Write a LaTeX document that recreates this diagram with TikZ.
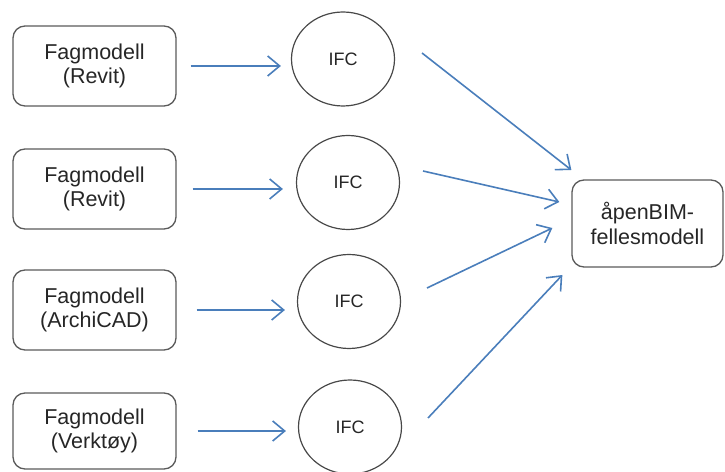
\documentclass[tikz,border=0pt]{standalone}
\usepackage{fontspec}
\setmainfont{Liberation Sans}
\usetikzlibrary{arrows.meta,shapes.geometric}
\definecolor{arrowblue}{HTML}{4A7EBB}
\definecolor{boxgray}{HTML}{5A5A5A}
\definecolor{txtgray}{HTML}{262626}
\begin{document}
\begin{tikzpicture}[x=1pt,y=1pt,
  srcbox/.style={draw=boxgray,line width=1.3pt,rounded corners=12pt,minimum width=163pt,minimum height=80pt,align=center,text=txtgray,font=\fontsize{21.5}{24.5}\selectfont},
  ifcnode/.style={draw=boxgray!80!black,line width=1.2pt,ellipse,minimum width=103pt,minimum height=94pt,inner sep=0pt,text=txtgray,font=\fontsize{18}{20}\selectfont},
  arr/.style={draw=arrowblue,line width=1.6pt,-{Straight Barb[length=12pt,width=20pt,line width=1.6pt]}}
]
\useasboundingbox (0,0) rectangle (725,471);
\node[srcbox] (b1) at (94.5,405) {Fagmodell\\(Revit)};
\node[srcbox] (b2) at (94.5,282) {Fagmodell\\(Revit)};
\node[srcbox] (b3) at (94.5,161) {Fagmodell\\(ArchiCAD)};
\node[srcbox,minimum height=76pt] (b4) at (94.5,40) {Fagmodell\\(Verktøy)};
\node[ifcnode] (c1) at (343,412) {IFC};
\node[ifcnode] (c2) at (348,288.5) {IFC};
\node[ifcnode] (c3) at (349,169.5) {IFC};
\node[ifcnode] (c4) at (350,44) {IFC};
\node[srcbox,minimum width=151pt,minimum height=87pt] (r) at (647.5,247.5) {åpenBIM-\\fellesmodell};
\draw[arr,shorten <=14pt,shorten >=10pt] (b1.east) -- (b1.east -| c1.west);
\draw[arr,shorten <=16pt,shorten >=13pt] (b2.east) -- (b2.east -| c2.west);
\draw[arr,shorten <=20pt,shorten >=12pt] (b3.east) -- (b3.east -| c3.west);
\draw[arr,shorten <=21pt,shorten >=12pt] (b4.east) -- (b4.east -| c4.west);
\draw[arr] ([shift={(79,6)}]c1.center) -- ([shift={(0,53.5)}]r.west);
\draw[arr] ([shift={(75,11.5)}]c2.center) -- ([shift={(-12,21.5)}]r.west);
\draw[arr] ([shift={(78,13.5)}]c3.center) -- ([shift={(-19,-4.5)}]r.west);
\draw[arr] ([shift={(78,9)}]c4.center) -- ([shift={(-9,-51.5)}]r.west);
\end{tikzpicture}
\end{document}
